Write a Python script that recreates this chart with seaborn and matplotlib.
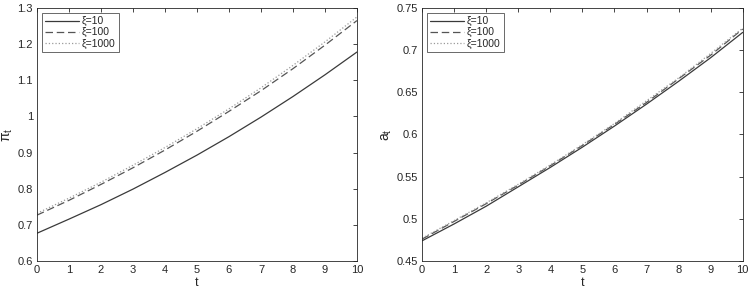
import pandas as pd
import seaborn as sns
import matplotlib.pyplot as plt
from matplotlib.ticker import FormatStrFormatter

t = [0, 1, 2, 3, 4, 5, 6, 7, 8, 9, 10]
xi_labels = ["ξ=10", "ξ=100", "ξ=1000"]

# pi_t for xi = 10, 100, 1000
pi_10 = [0.677, 0.716, 0.756, 0.799, 0.845, 0.893, 0.944, 0.998, 1.055, 1.115, 1.178]
pi_100 = [0.727, 0.768, 0.812, 0.858, 0.907, 0.959, 1.014, 1.071, 1.132, 1.197, 1.265]
pi_1000 = [0.732, 0.774, 0.818, 0.865, 0.914, 0.966, 1.021, 1.079, 1.141, 1.206, 1.275]

# a_t for xi = 10, 100, 1000
a_10 = [0.474, 0.494, 0.515, 0.538, 0.561, 0.585, 0.610, 0.636, 0.663, 0.691, 0.721]
a_100 = [0.476, 0.497, 0.518, 0.540, 0.563, 0.587, 0.612, 0.638, 0.666, 0.694, 0.725]
a_1000 = [0.477, 0.498, 0.519, 0.541, 0.564, 0.588, 0.613, 0.640, 0.667, 0.696, 0.726]

sns.set_style("white")
plt.rcParams['font.family'] = ['Liberation Sans', 'DejaVu Sans']
plt.rcParams['mathtext.fontset'] = 'custom'
plt.rcParams['mathtext.it'] = 'Liberation Sans:italic'
plt.rcParams['mathtext.rm'] = 'Liberation Sans'

styles = [("-", "#3a3a3a"), ((0, (6, 3)), "#555555"), (":", "#9a9a9a")]

fig = plt.figure(figsize=(7.51, 2.93), dpi=100)
ax1 = fig.add_axes([0.0493, 0.109, 0.426, 0.864])
ax2 = fig.add_axes([0.562, 0.109, 0.427, 0.864])

panels = [
    (ax1, [pi_10, pi_100, pi_1000], r"$\mathrm{\pi_t}$", (0.6, 1.3), [0.6, 0.7, 0.8, 0.9, 1.0, 1.1, 1.2, 1.3]),
    (ax2, [a_10, a_100, a_1000], r"$\mathrm{a_t}$", (0.45, 0.75), [0.45, 0.5, 0.55, 0.6, 0.65, 0.7, 0.75]),
]

for ax, series, ylab, ylim, yticks in panels:
    for vals, lab, (ls, col) in zip(series, xi_labels, styles):
        df = pd.DataFrame({"t": t, "v": vals})
        sns.lineplot(x="t", y="v", data=df, ax=ax, label=lab, color=col,
                     linestyle=ls, linewidth=0.9)
    ax.set_xlim(0, 10)
    ax.set_ylim(*ylim)
    ax.set_xticks(range(0, 11))
    ax.set_yticks(yticks)
    ax.yaxis.set_major_formatter(FormatStrFormatter('%g'))
    ax.set_xlabel("t", fontsize=9, labelpad=1)
    ax.set_ylabel(ylab, fontsize=10, labelpad=2)
    ax.tick_params(direction="in", length=3, width=0.6, labelsize=8,
                   top=True, right=True, colors="#262626", pad=3)
    for sp in ax.spines.values():
        sp.set_linewidth(0.6)
        sp.set_color("#262626")
    leg = ax.legend(loc="upper left", fontsize=7.5, handlelength=3.2,
                    frameon=True, fancybox=False, borderpad=0.3,
                    labelspacing=0.1, handletextpad=0.3,
                    borderaxespad=0.5)
    leg.get_frame().set_edgecolor("#262626")
    leg.get_frame().set_linewidth(0.6)

fig.savefig("out.png", dpi=100)
